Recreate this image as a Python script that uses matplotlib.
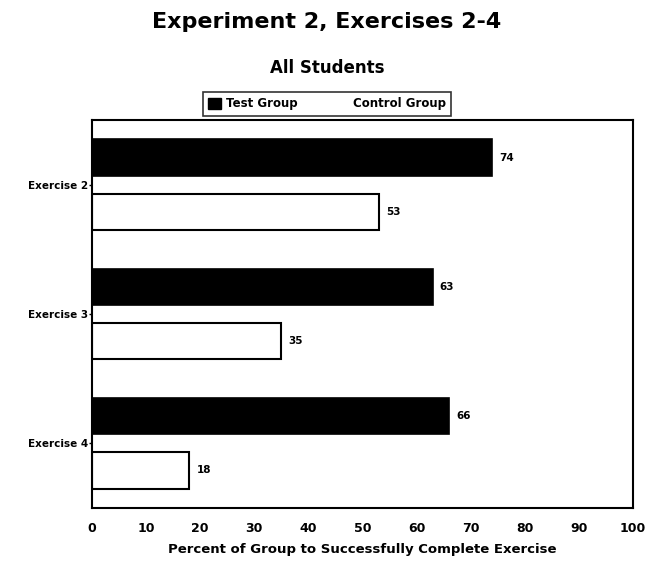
import matplotlib
matplotlib.use("Agg")
import matplotlib.pyplot as plt
import matplotlib.patches as mpatches
import numpy as np

# data
exercises = ["Exercise 2", "Exercise 3", "Exercise 4"]
test_group = [74, 63, 66]
control_group = [53, 35, 18]
x_ticks = [0, 10, 20, 30, 40, 50, 60, 70, 80, 90, 100]

plt.rcParams['font.family'] = ['DejaVu Sans']

fig = plt.figure(figsize=(6.49, 5.62), dpi=100)
ax = fig.add_axes([92 / 649, 1 - 508 / 562, (633 - 92) / 649, (508 - 120) / 562])

y = np.arange(len(exercises))
h = 0.28
off = 0.21

ax.barh(y - off, test_group, height=h, color='black', edgecolor='black', linewidth=1.2)
ax.barh(y + off, control_group, height=h, color='white', edgecolor='black', linewidth=1.5)

# value labels
for yi, v in zip(y, test_group):
    ax.text(v + 1.3, yi - off, str(v), va='center', ha='left', fontsize=7.5, fontweight='bold')
for yi, v in zip(y, control_group):
    ax.text(v + 1.3, yi + off, str(v), va='center', ha='left', fontsize=7.5, fontweight='bold')

ax.set_xlim(0, 100)
ax.set_ylim(len(exercises) - 0.5, -0.5)
ax.set_yticks(y)
ax.set_yticklabels(exercises, fontsize=7.5, fontweight='bold')
ax.set_xticks(x_ticks)
ax.set_xticklabels([str(t) for t in x_ticks], fontsize=9, fontweight='bold')
ax.tick_params(axis='y', length=2, width=1, pad=1)
ax.tick_params(axis='x', length=0, pad=10)
for sp in ax.spines.values():
    sp.set_linewidth(1.5)

ax.set_xlabel("Percent of Group to Successfully Complete Exercise",
              fontsize=9.5, fontweight='bold', labelpad=6)

fig.text(327 / 649, 1 - 22 / 562, "Experiment 2, Exercises 2-4",
         ha='center', va='center', fontsize=16, fontweight='bold')
fig.text(327 / 649, 1 - 68 / 562, "All Students",
         ha='center', va='center', fontsize=12, fontweight='bold')

handles = [mpatches.Patch(facecolor='black', edgecolor='black', label='Test Group'),
           mpatches.Patch(facecolor='white', edgecolor='white', label='Control Group')]
leg = fig.legend(handles=handles, loc='center', ncol=2,
                 bbox_to_anchor=(327 / 649, 1 - 104 / 562),
                 frameon=True, fancybox=False, edgecolor='black',
                 handlelength=1.1, handleheight=1.1, handletextpad=0.4,
                 columnspacing=3.2, borderpad=0.45, borderaxespad=0,
                 prop={'weight': 'bold', 'size': 8.5})
leg.get_frame().set_linewidth(1.2)

fig.savefig("out.png", dpi=100)
